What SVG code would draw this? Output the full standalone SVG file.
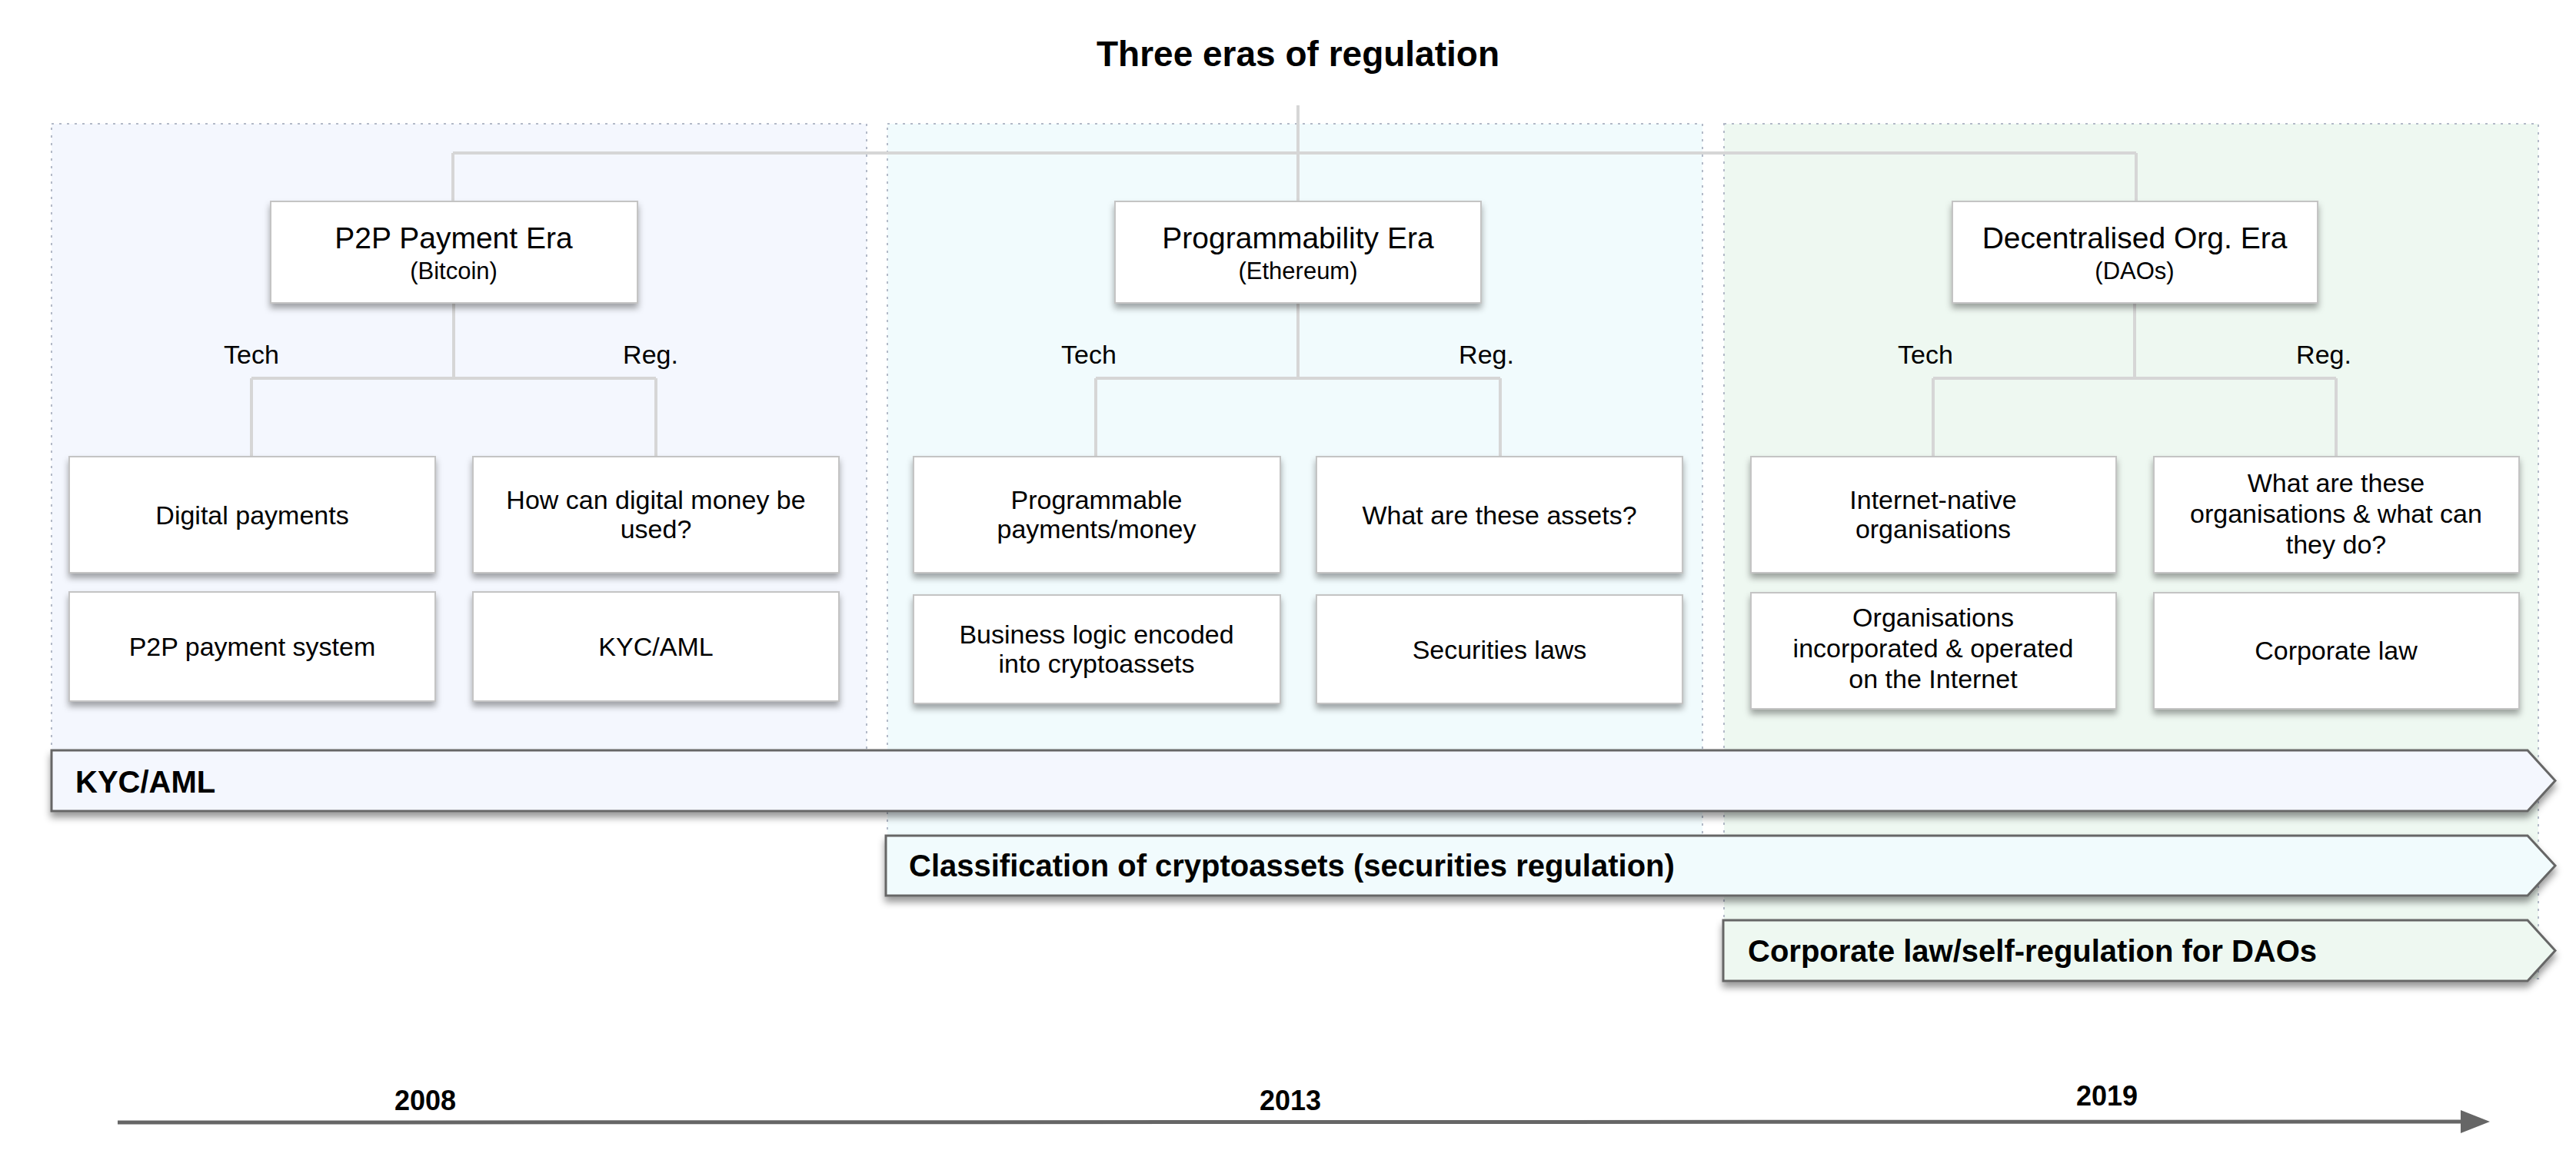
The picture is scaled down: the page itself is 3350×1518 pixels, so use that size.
<svg xmlns="http://www.w3.org/2000/svg" width="3350" height="1518" viewBox="0 0 3350 1518">
<defs>
<filter id="sh" x="-10%" y="-20%" width="120%" height="150%">
<feDropShadow dx="0" dy="6" stdDeviation="4" flood-color="#000" flood-opacity="0.35"/>
</filter>
<filter id="bsh" x="-5%" y="-20%" width="110%" height="160%">
<feDropShadow dx="0" dy="7" stdDeviation="5" flood-color="#000" flood-opacity="0.4"/>
</filter>
</defs>
<style>
text{font-family:"Liberation Sans",Arial,sans-serif;fill:#000}
.era{stroke:#b3bac8;stroke-width:2;stroke-dasharray:3 7}
.node{fill:#fff;stroke:#c4c4c4;stroke-width:2;filter:url(#sh)}
.t{font-size:34px;text-anchor:middle}
.h{font-size:39px;text-anchor:middle}
.hs{font-size:31px;text-anchor:middle}
.lab{font-size:34px;text-anchor:middle}
.bar{stroke:#666;stroke-width:3;filter:url(#bsh)}
.bt{font-size:40px;font-weight:bold}
.yr{font-size:36px;font-weight:bold;text-anchor:middle}
.c{fill:none;stroke:#d6d6d6;stroke-width:4}
</style>
<rect width="3350" height="1518" fill="#fff"/>

<g id="era-backgrounds">
<rect id="era1-bg" class="era" x="67" y="161" width="1060" height="889" fill="#f4f7fe"/>
<rect id="era2-bg" class="era" x="1154" y="161" width="1060" height="999" fill="#f1fbfd"/>
<rect id="era3-bg" class="era" x="2242" y="161" width="1059" height="1112" fill="#eef8f1"/>
</g>

<text id="title" x="1688" y="86" font-size="46" font-weight="bold" text-anchor="middle">Three eras of regulation</text>

<g id="connectors">
<path class="c" d="M1688 137V262M589 199H2778M589 199V262M2778 199V262"/>
<path class="c" d="M590 394V492M327 492H853M327 492V594M853 492V594"/>
<path class="c" d="M1688 394V492M1425 492H1951M1425 492V594M1951 492V594"/>
<path class="c" d="M2776 394V492M2514 492H3038M2514 492V594M3038 492V594"/>
</g>

<g id="era1">
<rect class="node" x="352" y="262" width="477" height="132"/>
<text class="h" x="590" y="323">P2P Payment Era</text>
<text class="hs" x="590" y="363">(Bitcoin)</text>
</g>
<g id="era2">
<rect class="node" x="1450" y="262" width="476" height="132"/>
<text class="h" x="1688" y="323">Programmability Era</text>
<text class="hs" x="1688" y="363">(Ethereum)</text>
</g>
<g id="era3">
<rect class="node" x="2539" y="262" width="475" height="132"/>
<text class="h" x="2776" y="323">Decentralised Org. Era</text>
<text class="hs" x="2776" y="363">(DAOs)</text>
</g>

<g id="branch-labels">
<text class="lab" x="327" y="473">Tech</text>
<text class="lab" x="846" y="473">Reg.</text>
<text class="lab" x="1416" y="473">Tech</text>
<text class="lab" x="1933" y="473">Reg.</text>
<text class="lab" x="2504" y="473">Tech</text>
<text class="lab" x="3022" y="473">Reg.</text>
</g>

<g id="n-digital-payments">
<rect class="node" x="90" y="594" width="476" height="151"/>
<text class="t" x="328" y="682">Digital payments</text>
</g>
<g id="n-how-can">
<rect class="node" x="615" y="594" width="476" height="151"/>
<text class="t" x="853" y="662">How can digital money be</text>
<text class="t" x="853" y="700">used?</text>
</g>
<g id="n-p2p-system">
<rect class="node" x="90" y="770" width="476" height="142"/>
<text class="t" x="328" y="853">P2P payment system</text>
</g>
<g id="n-kyc">
<rect class="node" x="615" y="770" width="476" height="142"/>
<text class="t" x="853" y="853">KYC/AML</text>
</g>

<g id="n-programmable">
<rect class="node" x="1188" y="594" width="477" height="151"/>
<text class="t" x="1426" y="662">Programmable</text>
<text class="t" x="1426" y="700">payments/money</text>
</g>
<g id="n-what-assets">
<rect class="node" x="1712" y="594" width="476" height="151"/>
<text class="t" x="1950" y="682">What are these assets?</text>
</g>
<g id="n-business-logic">
<rect class="node" x="1188" y="774" width="477" height="141"/>
<text class="t" x="1426" y="837">Business logic encoded</text>
<text class="t" x="1426" y="875">into cryptoassets</text>
</g>
<g id="n-securities">
<rect class="node" x="1712" y="774" width="476" height="141"/>
<text class="t" x="1950" y="857">Securities laws</text>
</g>

<g id="n-internet-native">
<rect class="node" x="2277" y="594" width="475" height="151"/>
<text class="t" x="2514" y="662">Internet-native</text>
<text class="t" x="2514" y="700">organisations</text>
</g>
<g id="n-what-orgs">
<rect class="node" x="2801" y="594" width="475" height="151"/>
<text class="t" x="3038" y="640">What are these</text>
<text class="t" x="3038" y="680">organisations &amp; what can</text>
<text class="t" x="3038" y="720">they do?</text>
</g>
<g id="n-orgs-incorporated">
<rect class="node" x="2277" y="771" width="475" height="151"/>
<text class="t" x="2514" y="815">Organisations</text>
<text class="t" x="2514" y="855">incorporated &amp; operated</text>
<text class="t" x="2514" y="895">on the Internet</text>
</g>
<g id="n-corporate-law">
<rect class="node" x="2801" y="771" width="475" height="151"/>
<text class="t" x="3038" y="858">Corporate law</text>
</g>

<g id="bar-kyc">
<polygon class="bar" points="67,976 3287,976 3323,1015.5 3287,1055 67,1055" fill="#f4f7fe"/>
<text class="bt" x="98" y="1031">KYC/AML</text>
</g>
<g id="bar-classification">
<polygon class="bar" points="1152,1087 3287,1087 3323,1126 3287,1165 1152,1165" fill="#f1fbfd"/>
<text class="bt" x="1182" y="1140">Classification of cryptoassets (securities regulation)</text>
</g>
<g id="bar-corporate">
<polygon class="bar" points="2241,1197 3287,1197 3323,1236.5 3287,1276 2241,1276" fill="#eef8f1"/>
<text class="bt" x="2273" y="1251">Corporate law/self-regulation for DAOs</text>
</g>

<g id="timeline">
<line x1="153" y1="1460" x2="3205" y2="1459" stroke="#666" stroke-width="5"/>
<polygon points="3200,1444 3238,1459 3200,1474" fill="#666"/>
<text class="yr" x="553" y="1444">2008</text>
<text class="yr" x="1678" y="1444">2013</text>
<text class="yr" x="2740" y="1438">2019</text>
</g>
</svg>
